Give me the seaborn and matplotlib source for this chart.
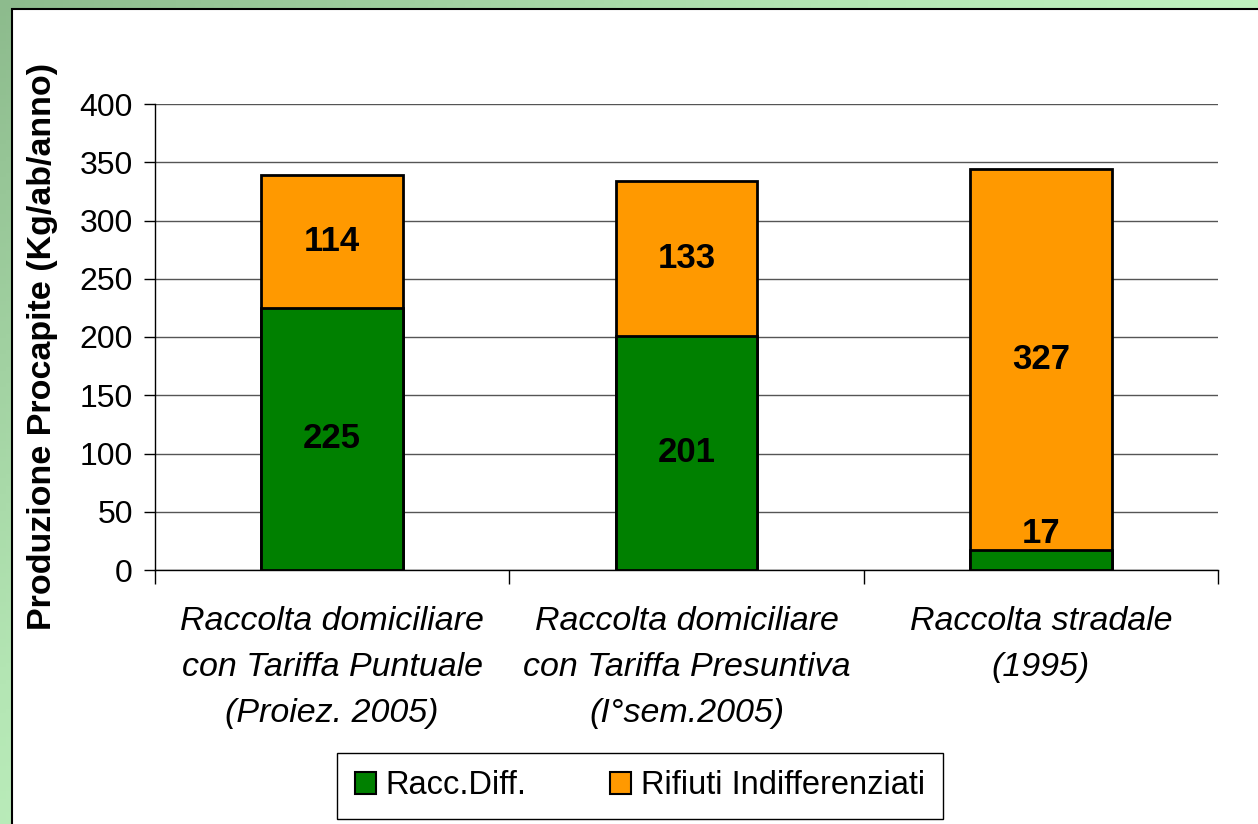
#!/usr/bin/env python3
"""Produzione procapite di rifiuti: raccolta differenziata vs indifferenziati."""
import matplotlib
matplotlib.use("Agg")
import matplotlib.pyplot as plt
import numpy as np
import pandas as pd
import seaborn as sns
from matplotlib.colors import LinearSegmentedColormap
from matplotlib.patches import Patch, Rectangle

# Dati
categorie = [
    "Raccolta domiciliare\ncon Tariffa Puntuale\n(Proiez. 2005)",
    "Raccolta domiciliare\ncon Tariffa Presuntiva\n(I°sem.2005)",
    "Raccolta stradale\n(1995)",
]
racc_diff = [225, 201, 17]
indifferenziati = [114, 133, 327]
serie = ["Racc.Diff.", "Rifiuti Indifferenziati"]
y_ticks = [0, 50, 100, 150, 200, 250, 300, 350, 400]

VERDE = "#008000"
ARANCIO = "#FF9900"
W, H = 1258, 824

sns.set_theme(style="white")
plt.rcParams["font.family"] = ["Liberation Sans", "DejaVu Sans"]
plt.rcParams.update({"text.color": "black", "axes.labelcolor": "black",
                     "xtick.color": "black", "ytick.color": "black"})

fig = plt.figure(figsize=(W / 100, H / 100), dpi=100)

# sfondo a gradiente verde + pannello bianco
bg = fig.add_axes([0, 0, 1, 1], zorder=-10)
bg.set_axis_off()
xx, yy = np.meshgrid(np.linspace(0, 1, 200), np.linspace(0, 1, 200))
grad = np.clip(0.75 * xx + 0.6 * yy, 0, 1)
cmap = LinearSegmentedColormap.from_list("g", ["#8dbb8d", "#b4e6b4", "#ccffcc"])
bg.imshow(grad, cmap=cmap, extent=[0, W, H, 0], aspect="auto")
bg.add_patch(Rectangle((12, 9), W + 10, H + 10, facecolor="white",
                       edgecolor="black", linewidth=1.5))
bg.set_xlim(0, W)
bg.set_ylim(H, 0)

ax = fig.add_axes([155 / W, 1 - 570 / H, (1218 - 155) / W, (570 - 104) / H])
ax.set_facecolor("none")

df = pd.DataFrame({"categoria": categorie, "diff": racc_diff,
                   "indiff": indifferenziati})
df["totale"] = df["diff"] + df["indiff"]

sns.barplot(data=df, x="categoria", y="totale", color=ARANCIO, width=0.4,
            edgecolor="black", linewidth=2, saturation=1, ax=ax, zorder=3)
sns.barplot(data=df, x="categoria", y="diff", color=VERDE, width=0.4,
            edgecolor="black", linewidth=2, saturation=1, ax=ax, zorder=4)

# etichette dei valori
for i, row in df.iterrows():
    d, u = row["diff"], row["indiff"]
    if d >= 40:
        ax.text(i, d / 2, str(d), ha="center", va="center", fontsize=25,
                fontweight="bold", zorder=6)
    else:
        ax.annotate(str(d), (i, d), xytext=(0, 0), textcoords="offset points",
                    ha="center", va="bottom", fontsize=25, fontweight="bold",
                    zorder=6)
    ax.text(i, d + u / 2, str(u), ha="center", va="center", fontsize=25,
            fontweight="bold", zorder=6)

ax.set_ylim(0, 400)
ax.set_xlim(-0.5, 2.5)
ax.set_yticks(y_ticks)
ax.yaxis.grid(True, color="#555555", linewidth=1)
ax.set_axisbelow(True)
for s in ["top", "right"]:
    ax.spines[s].set_visible(False)
ax.spines["left"].set_color("black")
ax.spines["bottom"].set_color("black")
ax.spines["left"].set_linewidth(1)
ax.spines["bottom"].set_linewidth(1)

ax.tick_params(axis="y", which="major", direction="out", length=8, width=1,
               color="black", labelsize=23, pad=8, left=True)
ax.set_xticks([0, 1, 2])
ax.set_xticklabels(categorie, fontsize=24.5, style="italic", linespacing=1.63)
ax.tick_params(axis="x", which="major", length=0, pad=26)
ax.set_xticks([-0.5, 0.5, 1.5, 2.5], minor=True)
ax.tick_params(axis="x", which="minor", direction="out", length=10, width=1,
               color="black", bottom=True)
ax.set_xlabel("")
ax.set_ylabel("Produzione Procapite (Kg/ab/anno)", fontsize=24.5,
              fontweight="bold")
ax.yaxis.set_label_coords((58 - 155) / 1063, (570 - 346) / 466)

handles = [Patch(facecolor=VERDE, edgecolor="black", linewidth=1.5),
           Patch(facecolor=ARANCIO, edgecolor="black", linewidth=1.5)]
fig.legend(handles, serie, loc="center", bbox_to_anchor=(640 / W, 1 - 786 / H),
           ncol=2, fontsize=23.5, frameon=True, fancybox=False, edgecolor="black",
           framealpha=1, handlelength=0.65, handleheight=0.65, handletextpad=0.3,
           columnspacing=2.55, borderpad=0.55, borderaxespad=0)

fig.savefig("out.png", dpi=100)
plt.close(fig)
